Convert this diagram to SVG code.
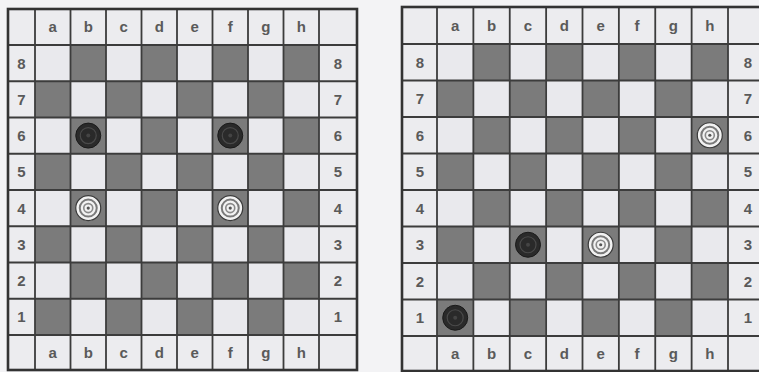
<svg xmlns="http://www.w3.org/2000/svg" xmlns:xlink="http://www.w3.org/1999/xlink" width="759" height="372" viewBox="0 0 759 372">
<style>
.lbl{font-family:"Liberation Sans",Arial,sans-serif;font-size:15px;font-weight:bold;fill:#5a5a5a;text-anchor:middle}
.grid{stroke:#3c3c3c;stroke-width:1.8;fill:none}
.frame{stroke:#333;stroke-width:2.6;fill:none}
</style>
<defs>
<pattern id="chkL" patternUnits="userSpaceOnUse" x="35" y="45" width="71" height="72.5">
<rect width="71" height="72.5" fill="#e9e9ed"/>
<rect x="35.5" y="0" width="35.5" height="36.25" fill="#7b7b7b"/>
<rect x="0" y="36.25" width="35.5" height="36.25" fill="#7b7b7b"/>
</pattern>
<pattern id="chkR" patternUnits="userSpaceOnUse" x="437" y="44" width="72.75" height="73">
<rect width="72.75" height="73" fill="#e9e9ed"/>
<rect x="36.375" y="0" width="36.375" height="36.5" fill="#7b7b7b"/>
<rect x="0" y="36.5" width="36.375" height="36.5" fill="#7b7b7b"/>
</pattern>
<g id="blk">
<circle r="12.5" fill="#2a2a2a" stroke="#1a1a1a" stroke-width="1"/>
<circle r="8" fill="none" stroke="#4a4a4a" stroke-width="1.2"/>
<circle r="2" fill="#444"/>
</g>
<g id="wht">
<circle r="12.5" fill="#f2f2f2" stroke="#3a3a3a" stroke-width="1.2"/>
<circle r="8.5" fill="none" stroke="#7a7a7a" stroke-width="2"/>
<circle r="4.5" fill="none" stroke="#8a8a8a" stroke-width="1.6"/>
<circle r="1.6" fill="#555"/>
</g>
</defs>
<rect width="759" height="372" fill="#f3f3f5"/>

<g id="board-left">
<rect x="8" y="9" width="349" height="361" fill="#ececef"/>
<rect x="35" y="45" width="284" height="290" fill="url(#chkL)"/>
<path class="grid" d="M35 9V370M70.5 9V370M106 9V370M141.5 9V370M177 9V370M212.5 9V370M248 9V370M283.5 9V370M319 9V370M8 45H357M8 81.25H357M8 117.5H357M8 153.75H357M8 190H357M8 226.25H357M8 262.5H357M8 298.75H357M8 335H357"/>
<rect class="frame" x="8" y="9" width="349" height="361"/>
<g id="left-files-top">
<text class="lbl" x="52.75" y="32">a</text><text class="lbl" x="88.25" y="32">b</text><text class="lbl" x="123.75" y="32">c</text><text class="lbl" x="159.25" y="32">d</text><text class="lbl" x="194.75" y="32">e</text><text class="lbl" x="230.25" y="32">f</text><text class="lbl" x="265.75" y="32">g</text><text class="lbl" x="301.25" y="32">h</text>
</g>
<g id="left-files-bottom">
<text class="lbl" x="52.75" y="358">a</text><text class="lbl" x="88.25" y="358">b</text><text class="lbl" x="123.75" y="358">c</text><text class="lbl" x="159.25" y="358">d</text><text class="lbl" x="194.75" y="358">e</text><text class="lbl" x="230.25" y="358">f</text><text class="lbl" x="265.75" y="358">g</text><text class="lbl" x="301.25" y="358">h</text>
</g>
<g id="left-ranks-left">
<text class="lbl" x="21.5" y="68.5">8</text><text class="lbl" x="21.5" y="104.8">7</text><text class="lbl" x="21.5" y="141">6</text><text class="lbl" x="21.5" y="177.3">5</text><text class="lbl" x="21.5" y="213.5">4</text><text class="lbl" x="21.5" y="249.8">3</text><text class="lbl" x="21.5" y="286">2</text><text class="lbl" x="21.5" y="322.3">1</text>
</g>
<g id="left-ranks-right">
<text class="lbl" x="338" y="68.5">8</text><text class="lbl" x="338" y="104.8">7</text><text class="lbl" x="338" y="141">6</text><text class="lbl" x="338" y="177.3">5</text><text class="lbl" x="338" y="213.5">4</text><text class="lbl" x="338" y="249.8">3</text><text class="lbl" x="338" y="286">2</text><text class="lbl" x="338" y="322.3">1</text>
</g>
</g>

<g id="board-right">
<rect x="402" y="7" width="363" height="364" fill="#ececef"/>
<rect x="437" y="44" width="291" height="292" fill="url(#chkR)"/>
<path class="grid" d="M437 7V371M473.375 7V371M509.75 7V371M546.125 7V371M582.5 7V371M618.875 7V371M655.25 7V371M691.625 7V371M728 7V371M402 44H765M402 80.5H765M402 117H765M402 153.5H765M402 190H765M402 226.5H765M402 263H765M402 299.5H765M402 336H765"/>
<rect class="frame" x="402" y="7" width="363" height="364"/>
<g id="right-files-top">
<text class="lbl" x="455.2" y="31">a</text><text class="lbl" x="491.6" y="31">b</text><text class="lbl" x="528" y="31">c</text><text class="lbl" x="564.3" y="31">d</text><text class="lbl" x="600.7" y="31">e</text><text class="lbl" x="637.1" y="31">f</text><text class="lbl" x="673.4" y="31">g</text><text class="lbl" x="709.8" y="31">h</text>
</g>
<g id="right-files-bottom">
<text class="lbl" x="455.2" y="359">a</text><text class="lbl" x="491.6" y="359">b</text><text class="lbl" x="528" y="359">c</text><text class="lbl" x="564.3" y="359">d</text><text class="lbl" x="600.7" y="359">e</text><text class="lbl" x="637.1" y="359">f</text><text class="lbl" x="673.4" y="359">g</text><text class="lbl" x="709.8" y="359">h</text>
</g>
<g id="right-ranks-left">
<text class="lbl" x="420" y="67.6">8</text><text class="lbl" x="420" y="104.1">7</text><text class="lbl" x="420" y="140.6">6</text><text class="lbl" x="420" y="177.1">5</text><text class="lbl" x="420" y="213.6">4</text><text class="lbl" x="420" y="250.1">3</text><text class="lbl" x="420" y="286.6">2</text><text class="lbl" x="420" y="323.1">1</text>
</g>
<g id="right-ranks-right">
<text class="lbl" x="748" y="67.6">8</text><text class="lbl" x="748" y="104.1">7</text><text class="lbl" x="748" y="140.6">6</text><text class="lbl" x="748" y="177.1">5</text><text class="lbl" x="748" y="213.6">4</text><text class="lbl" x="748" y="250.1">3</text><text class="lbl" x="748" y="286.6">2</text><text class="lbl" x="748" y="323.1">1</text>
</g>
</g>

<g id="pieces-left">
<g id="L-b6"><use xlink:href="#blk" href="#blk" x="88.25" y="135.6"/></g>
<g id="L-f6"><use xlink:href="#blk" href="#blk" x="230.25" y="135.6"/></g>
<g id="L-b4"><use xlink:href="#wht" href="#wht" x="88.25" y="208.1"/></g>
<g id="L-f4"><use xlink:href="#wht" href="#wht" x="230.25" y="208.1"/></g>
</g>
<g id="pieces-right">
<g id="R-h6"><use xlink:href="#wht" href="#wht" x="709.8" y="135.25"/></g>
<g id="R-e3"><use xlink:href="#wht" href="#wht" x="600.7" y="244.75"/></g>
<g id="R-c3"><use xlink:href="#blk" href="#blk" x="528" y="244.75"/></g>
<g id="R-a1"><use xlink:href="#blk" href="#blk" x="455.2" y="317.75"/></g>
</g>
<g id="connectors"/>
</svg>
